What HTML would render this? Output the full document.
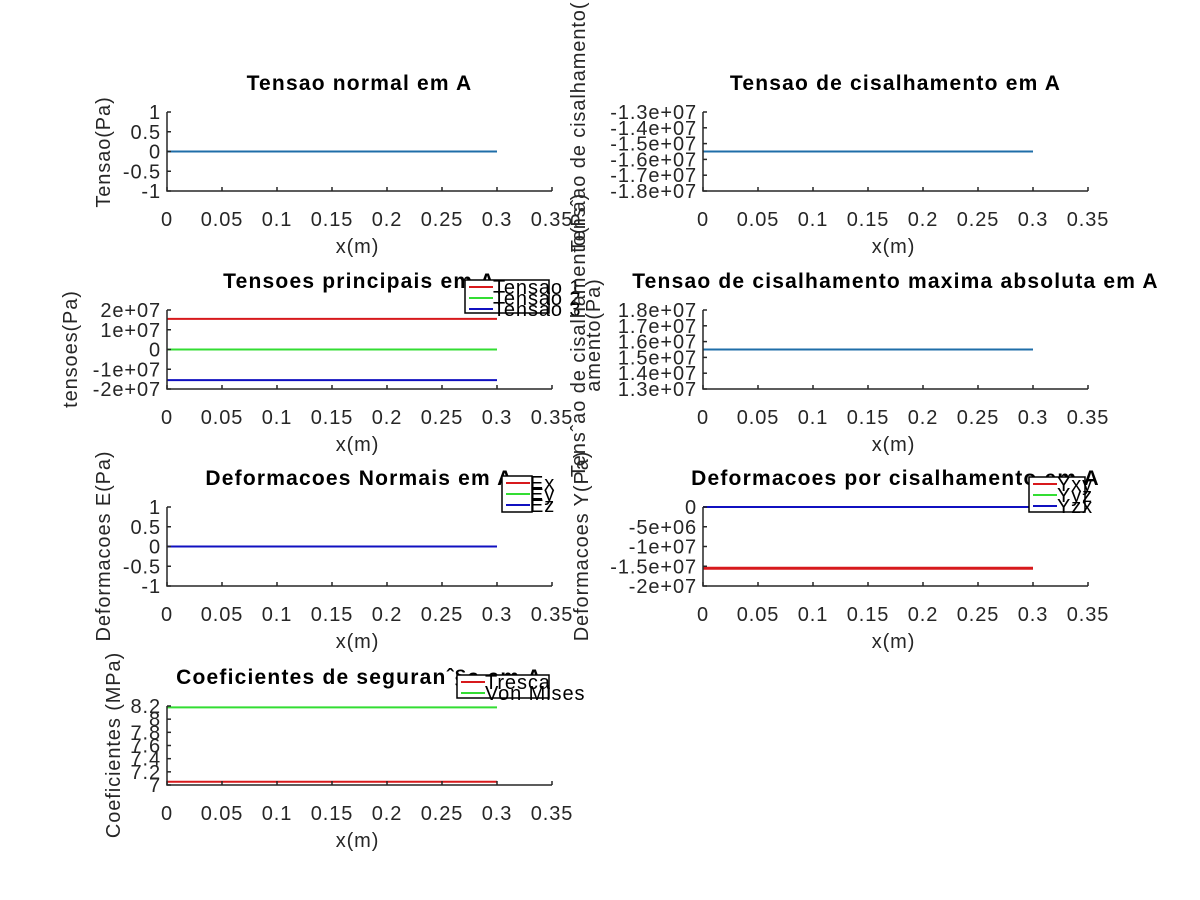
<!DOCTYPE html>
<html><head><meta charset="utf-8"><style>
body{margin:0;background:#fff}
svg{display:block;font-family:"Liberation Sans",sans-serif}
</style></head><body>
<svg id="fig" width="1200" height="900" viewBox="0 0 1200 900" xmlns="http://www.w3.org/2000/svg"></svg>
<script>
// x data (m)
const xStart = [0, 0, 0, 0, 0, 0, 0];
const xEnd = [0.3, 0.3, 0.3, 0.3, 0.3, 0.3, 0.3];
const xTicks = [0, 0.05, 0.1, 0.15, 0.2, 0.25, 0.3, 0.35];
const xTickLabels = ["0","0.05","0.1","0.15","0.2","0.25","0.3","0.35"];
// series values (constant lines)
const normalStress = [0];
const shearStress = [-1.55e7];
const principalStress = [1.55e7, 0, -1.55e7];
const maxShear = [1.55e7];
const normalStrain = [0, 0, 0];
const shearStrain = [-1.55e7, 0, 0];
const safety = [7.05, 8.18];
// y ticks
const yTicks1 = [-1,-0.5,0,0.5,1];
const yLabels1 = ["-1","-0.5","0","0.5","1"];
const yTicks2 = [-1.8e7,-1.7e7,-1.6e7,-1.5e7,-1.4e7,-1.3e7];
const yLabels2 = ["-1.8e+07","-1.7e+07","-1.6e+07","-1.5e+07","-1.4e+07","-1.3e+07"];
const yTicks3 = [-2e7,-1e7,0,1e7,2e7];
const yLabels3 = ["-2e+07","-1e+07","0","1e+07","2e+07"];
const yTicks4 = [1.3e7,1.4e7,1.5e7,1.6e7,1.7e7,1.8e7];
const yLabels4 = ["1.3e+07","1.4e+07","1.5e+07","1.6e+07","1.7e+07","1.8e+07"];
const yTicks6 = [-2e7,-1.5e7,-1e7,-5e6,0];
const yLabels6 = ["-2e+07","-1.5e+07","-1e+07","-5e+06","0"];
const yTicks7 = [7,7.2,7.4,7.6,7.8,8,8.2];
const yLabels7 = ["7","7.2","7.4","7.6","7.8","8","8.2"];

const NS="http://www.w3.org/2000/svg";
const svg=document.getElementById('fig');
function mk(tag,attrs,parent,text){const e=document.createElementNS(NS,tag);for(const k in attrs)e.setAttribute(k,attrs[k]);if(text!==undefined)e.textContent=text;(parent||svg).appendChild(e);return e;}
const FS=20, LS=0.9;

function panel(p){
  const g=mk('g',{});
  
  
  const L=p.x0,R=p.x0+385,T=p.y0,B=p.y0+79;
  const sx=v=>L+(v-0)/(0.35-0)*(R-L);
  const sy=v=>B-(v-p.ymin)/(p.ymax-p.ymin)*(B-T);
  p.series.forEach((s,i)=>{
    const l=mk('line',{x1:sx(xStart[0]),x2:sx(xEnd[0]),y1:sy(s.v),y2:sy(s.v),stroke:s.c,'stroke-width':s.w||2},g);
    
    
  });
  const ax=mk('path',{d:`M${L} ${T}V${B}H${R}`,stroke:'#262626','stroke-width':1.5,fill:'none'},g);
  
  
  xTicks.forEach((v,i)=>{
    mk('line',{x1:sx(v),x2:sx(v),y1:B,y2:B-4,stroke:'#262626','stroke-width':1.5},g);
    const t=mk('text',{x:sx(v),y:B+35,'text-anchor':'middle','font-size':FS,'letter-spacing':LS,fill:'#262626'},g,xTickLabels[i]);
    
    
  });
  p.yt.forEach((v,i)=>{
    mk('line',{x1:L,x2:L+4,y1:sy(v),y2:sy(v),stroke:'#262626','stroke-width':1.5},g);
    const t=mk('text',{x:L-6,y:sy(v)+7,'text-anchor':'end','font-size':FS,'letter-spacing':LS,fill:'#262626'},g,p.yl[i]);
    
    
  });
  const xl=mk('text',{x:(L+R)/2-2,y:B+62,'text-anchor':'middle','font-size':FS,'letter-spacing':LS,fill:'#262626'},g,'x(m)');
  
  
  const tt=mk('text',{x:(L+R)/2+0,y:T-22,'text-anchor':'middle','font-size':21,'letter-spacing':1.2,'font-weight':'bold',fill:'#000'},g,p.title);
  
  
  p.ylab.forEach(yl=>{
    const y=mk('text',{x:0,y:0,'text-anchor':'middle','font-size':FS,'letter-spacing':LS,fill:'#262626',transform:`translate(${yl.x},${yl.y}) rotate(-90)`},g,yl.t);
    
    
  });
  if(p.leg){
    const lg=mk('g',{},g);
    
    
    const b=p.leg;
    mk('rect',{x:b.x,y:b.y,width:b.w,height:b.h,fill:'#fff',stroke:'#000','stroke-width':1.5},lg);
    b.items.forEach((it,i)=>{
      const yy=b.y+7+i*b.dy;
      mk('line',{x1:b.x+4,x2:b.x+28,y1:yy,y2:yy,stroke:it.c,'stroke-width':2},lg);
      const t=mk('text',{x:b.x+28,y:yy+7,'font-size':FS,'letter-spacing':LS,fill:'#000'},lg,it.t);
      
      
    });
  }
}
const R='#d7191c',G='#33dd33',Bl='#1010c0',D='#1f6ea8';
panel({name:'normal-stress-panel',x0:167,y0:112,ymin:-1,ymax:1,yt:yTicks1,yl:yLabels1,title:'Tensao normal em A',
  series:[{id:'normal',v:normalStress[0],c:D}],ylab:[{x:110,y:152,t:'Tensao(Pa)'}]});
panel({name:'shear-stress-panel',x0:703,y0:112,ymin:-1.8e7,ymax:-1.3e7,yt:yTicks2,yl:yLabels2,title:'Tensao de cisalhamento em A',
  series:[{id:'shear',v:shearStress[0],c:D}],ylab:[{x:585,y:110,t:'Tensˆao de cisalhamento(Pa)'}]});
panel({name:'principal-stress-panel',x0:167,y0:310,ymin:-2e7,ymax:2e7,yt:yTicks3,yl:yLabels3,title:'Tensoes principais em A',
  series:[{id:'t1',v:principalStress[0],c:R},{id:'t2',v:principalStress[1],c:G},{id:'t3',v:principalStress[2],c:Bl}],
  ylab:[{x:77,y:349,t:'tensoes(Pa)'}],
  leg:{x:465,y:280,w:84,h:33,dy:11,items:[{t:'Tensao 1',c:R},{t:'Tensao 2',c:G},{t:'Tensao 3',c:Bl}]}});
panel({name:'max-shear-panel',x0:703,y0:310,ymin:1.3e7,ymax:1.8e7,yt:yTicks4,yl:yLabels4,title:'Tensao de cisalhamento maxima absoluta em A',
  series:[{id:'maxshear',v:maxShear[0],c:D}],ylab:[{x:585,y:335,t:'Tensˆao de cisalhamento(Pa)'},{x:600,y:335,t:'amento(Pa)'}]});
panel({name:'normal-strain-panel',x0:167,y0:507,ymin:-1,ymax:1,yt:yTicks1,yl:yLabels1,title:'Deformacoes Normais em A',
  series:[{id:'ex',v:normalStrain[0],c:R},{id:'ey',v:normalStrain[1],c:G},{id:'ez',v:normalStrain[2],c:Bl}],
  ylab:[{x:110,y:546,t:'Deformacoes E(Pa)'}],
  leg:{x:502,y:476,w:30,h:36,dy:11,items:[{t:'Ex',c:R},{t:'Ey',c:G},{t:'Ez',c:Bl}]}});
panel({name:'shear-strain-panel',x0:703,y0:507,ymin:-2e7,ymax:0,yt:yTicks6,yl:yLabels6,title:'Deformacoes por cisalhamento em A',
  series:[{id:'yxy',v:shearStrain[0],c:R,w:3},{id:'yyz',v:shearStrain[1],c:G},{id:'yzx',v:shearStrain[2],c:Bl}],
  ylab:[{x:588,y:546,t:'Deformacoes  Y(Pa)'}],
  leg:{x:1029,y:477,w:56,h:35,dy:11,items:[{t:'Yxy',c:R},{t:'Yyz',c:G},{t:'Yzx',c:Bl}]}});
panel({name:'safety-factor-panel',x0:167,y0:706,ymin:7,ymax:8.2,yt:yTicks7,yl:yLabels7,title:'Coeficientes de seguranˆ§a em A',
  series:[{id:'tresca',v:safety[0],c:R},{id:'vonmises',v:safety[1],c:G}],
  ylab:[{x:120,y:745,t:'Coeficientes (MPa)'}],
  leg:{x:457,y:675,w:92,h:23,dy:11,items:[{t:'Tresca',c:R},{t:'Von Mises',c:G}]}});
</script>
</body></html>
